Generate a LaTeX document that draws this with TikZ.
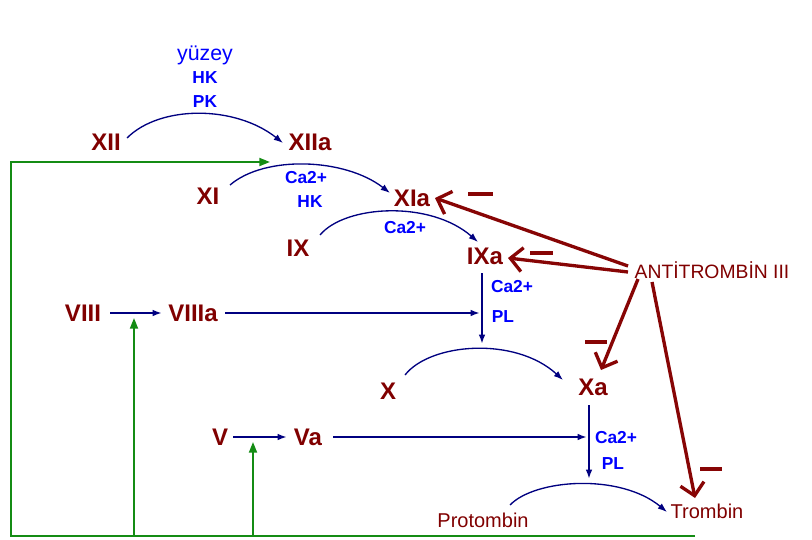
\documentclass[tikz,border=0pt]{standalone}
\usepackage{fontspec}
\setmainfont{Liberation Sans}
\usetikzlibrary{arrows.meta,calc}
\definecolor{facred}{RGB}{128,0,0}
\definecolor{cofblue}{RGB}{0,0,255}
\definecolor{navyline}{RGB}{0,0,128}
\definecolor{feedgreen}{RGB}{20,140,20}
\definecolor{inhred}{RGB}{135,5,5}
\begin{document}
\begin{tikzpicture}[x=0.75pt,y=-0.75pt,
  factor/.style={text=facred,font=\bfseries\fontsize{18}{18}\selectfont,inner sep=2pt},
  cofactor/.style={text=cofblue,font=\bfseries\fontsize{13}{13}\selectfont,inner sep=1pt},
  plainlabel/.style={text=facred,font=\fontsize{15}{15}\selectfont,inner sep=2pt},
  conv/.style={draw=navyline,line width=1pt,-{Latex[length=7pt,width=5pt]}},
  link/.style={draw=navyline,line width=1.4pt,-{Latex[length=7pt,width=5pt]}},
  feed/.style={draw=feedgreen,line width=1.4pt,line join=miter},
  feedtip/.style={feed,-{Triangle[length=8pt,width=6pt]}},
  inhib/.style={draw=inhred,line width=2.5pt,-{Straight Barb[length=9pt,width=18pt]}},
  minussign/.style={draw=inhred,line width=3pt}]
\useasboundingbox (0,0) rectangle (812,539);

% factors and cofactors
\node[text=cofblue,font=\fontsize{16}{16}\selectfont,inner sep=1pt] (surf) at (205,55) {yüzey};
\node[cofactor] (hk1) at (205,78) {HK};
\node[cofactor] (pk) at (205,102) {PK};
\node[factor] (XII) at (106,142) {XII};
\node[factor] (XIIa) at (310,142) {XIIa};
\node[factor] (XI) at (208,196) {XI};
\node[cofactor] (ca1) at (306,178) {Ca2+};
\node[cofactor] (hk2) at (310,202) {HK};
\node[factor] (XIa) at (412,198) {XIa};
\node[factor] (IX) at (298,248) {IX};
\node[cofactor] (ca2) at (405,228) {Ca2+};
\node[factor] (IXa) at (485,256) {IXa};
\node[cofactor] (ca3) at (512,287) {Ca2+};
\node[cofactor] (pl1) at (503,317) {PL};
\node[factor] (VIII) at (83,313) {VIII};
\node[factor] (VIIIa) at (193,313) {VIIIa};
\node[factor] (X) at (388,391) {X};
\node[factor] (Xa) at (593,387) {Xa};
\node[factor] (V) at (220,437) {V};
\node[factor] (Va) at (308,437) {Va};
\node[cofactor] (ca4) at (616,438) {Ca2+};
\node[cofactor] (pl2) at (613,464) {PL};
\node[plainlabel] (pro) at (483,520) {Protombin};
\node[plainlabel] (thr) at (707,511) {Trombin};
\node[plainlabel,font=\fontsize{14.5}{14.5}\selectfont] (AT) at (712,270) {ANTİTROMBİN III};

% conversion arcs
\draw[conv] ($(XII)+(21,-4)$) .. controls +(33,-33) and +(-48,-38) .. ($(XIIa)+(-27,1)$);
\draw[conv] ($(XI)+(22,-11)$) .. controls +(35,-30) and +(-45,-35) .. ($(XIa)+(-22,-5)$);
\draw[conv] ($(IX)+(22,-13)$) .. controls +(25,-30) and +(-48,-42) .. ($(IXa)+(-7,-14)$);
\draw[conv] ($(X)+(17,-16)$) .. controls +(25,-32) and +(-48,-44) .. ($(Xa)+(-30,-7)$);
\draw[conv] ($(pro)+(27,-15)$) .. controls +(25,-26) and +(-47,-39) .. ($(thr)+(-40,1)$);

% junction points on the activation paths
\coordinate (j8) at (480,313);
\coordinate (xtop) at (482,344);
\coordinate (j5) at (587,437);
\coordinate (prtop) at (589,479);

% cofactor activation and complex formation
\draw[link] ($(VIII)+(27,0)$) -- ($(VIIIa)+(-31,0)$);
\draw[link] ($(V)+(13,0)$) -- ($(Va)+(-21,0)$);
\draw[link] ($(VIIIa)+(32,0)$) -- (j8);
\draw[link] ($(Va)+(25,0)$) -- (j5);
\draw[link] ($(IXa)+(-3,17)$) -- (xtop);
\draw[link] ($(Xa)+(-4,18)$) -- (prtop);

% thrombin feedback
\coordinate (gA) at (11,536);
\coordinate (gB) at (11,162);
\coordinate (gC) at (270,162);
\coordinate (gD) at (695,536);
\coordinate (g8) at (134,318);
\coordinate (g5) at (253,442);
\draw[feedtip] (gD) -- (gA) -- (gB) -- (gC);
\draw[feedtip] (gA -| g8) -- (g8);
\draw[feedtip] (gA -| g5) -- (g5);

% antithrombin inhibition
\draw[inhib] ($(AT)+(-84,-4)$) -- ($(XIa)+(23,0)$);
\draw[inhib] ($(AT)+(-84,2)$) -- ($(IXa)+(23,2)$);
\draw[inhib] ($(AT)+(-74,9)$) -- ($(Xa)+(8,-17)$);
\draw[inhib] ($(AT)+(-60,12)$) -- ($(thr)+(-12,-13)$);
\draw[minussign] (468,194) -- (493,194);
\draw[minussign] (530,253) -- (553,253);
\draw[minussign] (585,342) -- (607,342);
\draw[minussign] (700,469) -- (722,469);
\end{tikzpicture}
\end{document}
